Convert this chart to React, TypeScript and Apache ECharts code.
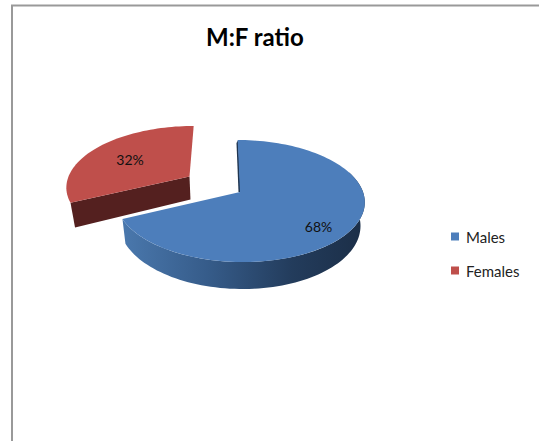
import React, { useEffect, useRef } from "react";
import * as echarts from "echarts";

const categories = ["Males", "Females"];
const values = [68, 32];
const colors = ["#4d7ebb", "#bf4f4b"];

const total = values.reduce((a, b) => a + b, 0);
const PERSP = 0.1475;
const VX = 222;
const DEPTH = 23;
const BOTTOM_SCALE = 0.97;
const geo = [
  { cx: 240, cy: 192, rx: 123, ry: 59.7, labelX: 318.5, labelY: 226 },
  { cx: 189.5, cy: 176.5, rx: 121, ry: 58, labelX: 130, labelY: 159 },
];

function top(g: any, deg: number) {
  const t = (deg * Math.PI) / 180;
  const u = Math.sin(t);
  const v = -Math.cos(t);
  const w = 1 - PERSP * v;
  return [VX + (g.cx + g.rx * u - VX) / w, g.cy + (g.ry * v) / w, w];
}
function bottom(g: any, deg: number) {
  const [x, y, w] = top(g, deg);
  return [VX + (x - VX) * BOTTOM_SCALE, y + DEPTH / w];
}
function rim(fn: (g: any, d: number) => number[], g: any, from: number, to: number) {
  const n = Math.max(2, Math.ceil(Math.abs(to - from) / 2));
  const out: number[][] = [];
  for (let i = 0; i <= n; i++) {
    const p = fn(g, from + ((to - from) * i) / n);
    out.push([p[0], p[1]]);
  }
  return out;
}
const apexTop = (g: any) => [g.cx, g.cy];
const apexBottom = (g: any) => [VX + (g.cx - VX) * BOTTOM_SCALE, g.cy + DEPTH];

function renderMales(_p: any, api: any) {
  const g = geo[0];
  const end = (api.value(0) / total) * 360;
  const wall = [...rim(top, g, 70, end), ...rim(bottom, g, end, 70)];
  const startTop = top(g, 0);
  const apex = apexTop(g);
  return {
    type: "group",
    children: [
      {
        type: "polygon",
        shape: { points: wall },
        style: {
          fill: new echarts.graphic.LinearGradient(0, 0, 1, 0, [
            { offset: 0, color: "#4a78ad" },
            { offset: 0.35, color: "#365c8a" },
            { offset: 0.7, color: "#233c5c" },
            { offset: 1, color: "#1b2e47" },
          ]),
        },
      },
      {
        type: "polygon",
        shape: {
          points: [
            [startTop[0] + 0.5, startTop[1]],
            [apex[0] + 0.5, apex[1]],
            [apex[0] - 1.5, apex[1]],
            [startTop[0] - 1.2, startTop[1] + 3],
          ],
        },
        style: { fill: "#1f3550" },
      },
      {
        type: "polygon",
        shape: { points: [apex, ...rim(top, g, 0, end)] },
        style: { fill: colors[0] },
      },
      {
        type: "text",
        x: g.labelX,
        y: g.labelY,
        style: {
          text: Math.round((api.value(0) / total) * 100) + "%",
          fill: "#111",
          font: "14px Lato",
          align: "center",
          verticalAlign: "middle",
        },
      },
    ],
  };
}

function renderFemales(_p: any, api: any) {
  const g = geo[1];
  const start = 360 - (api.value(0) / total) * 360;
  const corner = bottom(g, start);
  const cornerTop = top(g, start);
  return {
    type: "group",
    children: [
      {
        type: "polygon",
        shape: {
          points: [apexTop(g), [cornerTop[0], cornerTop[1]], corner, apexBottom(g)],
        },
        style: { fill: "#54201f" },
      },
      {
        type: "polygon",
        shape: { points: [apexTop(g), ...rim(top, g, start, 360)] },
        style: { fill: colors[1] },
      },
      {
        type: "text",
        x: g.labelX,
        y: g.labelY,
        style: {
          text: Math.round((api.value(0) / total) * 100) + "%",
          fill: "#111",
          font: "14px Lato",
          align: "center",
          verticalAlign: "middle",
        },
      },
    ],
  };
}

export default function App() {
  const ref = useRef<HTMLDivElement>(null);
  useEffect(() => {
    document.body.style.margin = "0";
    const chart = echarts.init(ref.current!, null, { renderer: "svg" });
    chart.setOption({
      animation: false,
      backgroundColor: "#ffffff",
      title: {
        text: "M:F ratio",
        left: 201,
        top: 19,
        textStyle: { fontFamily: "Lato", fontWeight: "bold", fontSize: 24, color: "#000" },
      },
      legend: {
        orient: "vertical",
        left: 446,
        top: 224,
        itemWidth: 8,
        itemHeight: 8,
        itemGap: 19,
        icon: "rect",
        data: categories,
        textStyle: { fontFamily: "Lato", fontSize: 15, color: "#222", padding: [5, 0, 0, 2] },
      },
      graphic: [
        {
          type: "polyline",
          silent: true,
          shape: { points: [[12, 441], [12, 5.5], [539, 5.5]] },
          style: { stroke: "#999999", lineWidth: 2, fill: "none" },
        },
      ],
      series: [
        {
          type: "custom",
          name: categories[0],
          coordinateSystem: "none",
          itemStyle: { color: colors[0] },
          renderItem: renderMales,
          data: [[values[0]]],
        },
        {
          type: "custom",
          name: categories[1],
          coordinateSystem: "none",
          itemStyle: { color: colors[1] },
          renderItem: renderFemales,
          data: [[values[1]]],
        },
      ],
    });
    return () => chart.dispose();
  }, []);
  return <div ref={ref} style={{ width: 539, height: 441 }} />;
}
